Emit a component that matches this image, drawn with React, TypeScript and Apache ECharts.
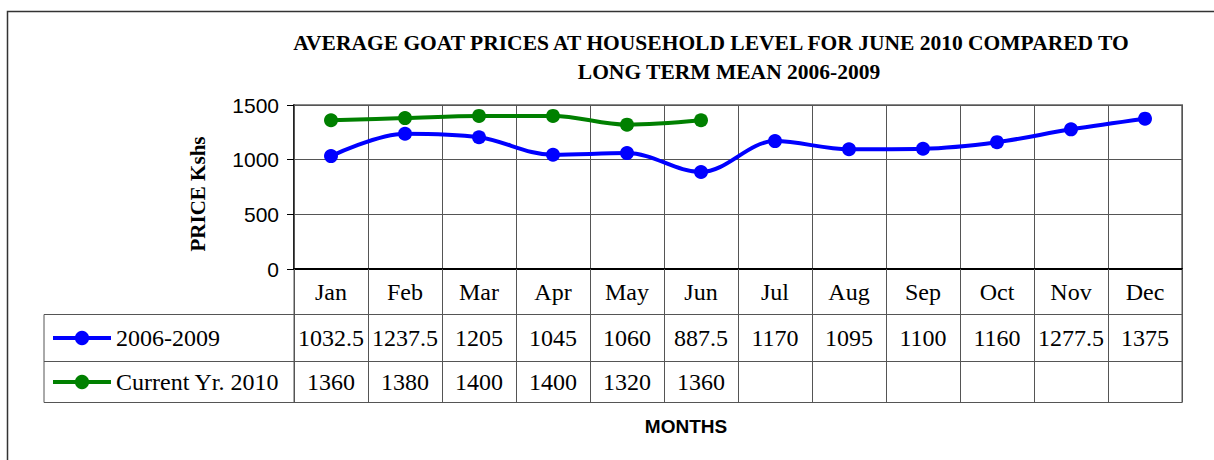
import React, { useEffect, useRef } from "react";
import * as echarts from "echarts";

const months = ["Jan", "Feb", "Mar", "Apr", "May", "Jun", "Jul", "Aug", "Sep", "Oct", "Nov", "Dec"];
const longTermMean = [1032.5, 1237.5, 1205, 1045, 1060, 887.5, 1170, 1095, 1100, 1160, 1277.5, 1375];
const current2010: (number | null)[] = [1360, 1380, 1400, 1400, 1320, 1360, null, null, null, null, null, null];
const seriesNames = ["2006-2009", "Current Yr. 2010"];
const seriesColors = ["#0000FF", "#008000"];
const yMin = 0;
const yMax = 1500;
const yStep = 500;
const titleLines = [
  "AVERAGE GOAT PRICES AT HOUSEHOLD LEVEL FOR JUNE 2010 COMPARED TO",
  "LONG TERM MEAN 2006-2009",
];
const yAxisTitle = "PRICE Kshs";
const xAxisTitle = "MONTHS";

const SERIF = "'Liberation Serif', 'Times New Roman', serif";
const SANS = "'Liberation Sans', Arial, sans-serif";
const GRID_COLOR = "#555555";
const TABLE_FONT = 24;

const fmt = (v: number | null) => (v === null || v === undefined ? "" : String(v));

export default function App() {
  const ref = useRef<HTMLDivElement>(null);

  useEffect(() => {
    if (!ref.current) return;
    const chart = echarts.init(ref.current, undefined, { renderer: "svg" });

    const gridLeft = 294;
    const gridTop = 105;
    const gridWidth = 888;
    const gridHeight = 164;
    const gridBottom = gridTop + gridHeight;
    const gridRight = gridLeft + gridWidth;
    const tableLeft = 44;
    const row1Top = 314.5;
    const row2Top = 361.5;
    const tableBottom = 402.5;

    const tableLine = (x1: number, y1: number, x2: number, y2: number) => ({
      type: "line",
      shape: { x1, y1, x2, y2 },
      style: { stroke: GRID_COLOR, lineWidth: 1 },
      silent: true,
      z: 1,
    });

    const cellLabel = {
      interval: 0,
      margin: 11,
      fontFamily: SERIF,
      fontSize: TABLE_FONT,
      lineHeight: TABLE_FONT,
      color: "#000",
    };

    const option: any = {
      animation: false,
      backgroundColor: "#ffffff",
      grid: {
        left: gridLeft,
        top: gridTop,
        width: gridWidth,
        height: gridHeight,
        show: true,
        borderColor: "#888888",
        borderWidth: 2,
        backgroundColor: "transparent",
      },
      legend: {
        orient: "vertical",
        left: 51,
        top: 326,
        padding: 0,
        itemWidth: 58,
        itemHeight: 18,
        itemGap: 20,
        data: seriesNames,
        lineStyle: { width: 4 },
        textStyle: { fontFamily: SERIF, fontSize: TABLE_FONT, lineHeight: TABLE_FONT, color: "#000" },
      },
      xAxis: [
        {
          type: "category",
          data: months,
          boundaryGap: true,
          position: "bottom",
          axisLine: { show: true, lineStyle: { color: "#000", width: 2 } },
          axisTick: { show: true, interval: 0, length: tableBottom - gridBottom, lineStyle: { color: GRID_COLOR, width: 1 } },
          axisLabel: cellLabel,
          splitLine: { show: true, interval: 0, lineStyle: { color: GRID_COLOR, width: 1 } },
          z: 3,
        },
        {
          type: "category",
          data: months,
          position: "bottom",
          offset: 46,
          axisLine: { show: false },
          axisTick: { show: false },
          splitLine: { show: false },
          axisLabel: { ...cellLabel, formatter: (_v: string, i: number) => fmt(longTermMean[i]) },
        },
        {
          type: "category",
          data: months,
          position: "bottom",
          offset: 90,
          axisLine: { show: false },
          axisTick: { show: false },
          splitLine: { show: false },
          axisLabel: { ...cellLabel, formatter: (_v: string, i: number) => fmt(current2010[i]) },
        },
      ],
      yAxis: {
        type: "value",
        min: yMin,
        max: yMax,
        interval: yStep,
        axisLine: { show: true, lineStyle: { color: "#000", width: 1.5 } },
        axisTick: { show: true, inside: false, length: 7, lineStyle: { color: "#000" } },
        axisLabel: { margin: 15, fontFamily: SANS, fontSize: 21, color: "#000", formatter: (v: number) => String(v) },
        splitLine: { show: true, lineStyle: { color: GRID_COLOR, width: 1 } },
        name: yAxisTitle,
        nameLocation: "middle",
        nameRotate: 90,
        nameGap: 86,
        nameTextStyle: { fontFamily: SERIF, fontWeight: "bold", fontSize: 21, color: "#000", padding: [0, 14, 0, 0] },
      },
      series: [
        {
          name: seriesNames[0],
          type: "line",
          data: longTermMean,
          smooth: 0.35,
          symbol: "circle",
          symbolSize: 14,
          color: seriesColors[0],
          lineStyle: { width: 4, color: seriesColors[0] },
          itemStyle: { color: seriesColors[0] },
          z: 5,
        },
        {
          name: seriesNames[1],
          type: "line",
          data: current2010,
          smooth: 0.35,
          connectNulls: false,
          symbol: "circle",
          symbolSize: 14,
          color: seriesColors[1],
          lineStyle: { width: 4, color: seriesColors[1] },
          itemStyle: { color: seriesColors[1] },
          z: 5,
        },
      ],
      graphic: [
        {
          type: "rect",
          shape: { x: 7.5, y: 11.5, width: 1400, height: 600 },
          style: { fill: "none", stroke: "#333", lineWidth: 1.5 },
          silent: true,
          z: 0,
        },
        {
          type: "text",
          x: 711,
          y: 43,
          style: {
            text: titleLines[0],
            textAlign: "center",
            textVerticalAlign: "middle",
            font: `bold 21.5px ${SERIF}`,
            fill: "#000",
          },
        },
        {
          type: "text",
          x: 729,
          y: 72,
          style: {
            text: titleLines[1],
            textAlign: "center",
            textVerticalAlign: "middle",
            font: `bold 21.5px ${SERIF}`,
            fill: "#000",
          },
        },
        {
          type: "text",
          x: 686,
          y: 426,
          style: {
            text: xAxisTitle,
            textAlign: "center",
            textVerticalAlign: "middle",
            font: `bold 19px ${SANS}`,
            fill: "#000",
          },
        },
        tableLine(tableLeft, row1Top, gridRight, row1Top),
        tableLine(tableLeft, row2Top, gridRight, row2Top),
        tableLine(tableLeft, tableBottom, gridRight, tableBottom),
        tableLine(tableLeft, row1Top, tableLeft, tableBottom),
        tableLine(gridLeft, gridBottom, gridLeft, tableBottom),
        tableLine(gridRight, gridBottom, gridRight, tableBottom),
      ],
    };

    chart.setOption(option);
    return () => chart.dispose();
  }, []);

  return (
    <div
      ref={ref}
      style={{ position: "absolute", left: 0, top: 0, width: 1214, height: 460, background: "#fff" }}
    />
  );
}
